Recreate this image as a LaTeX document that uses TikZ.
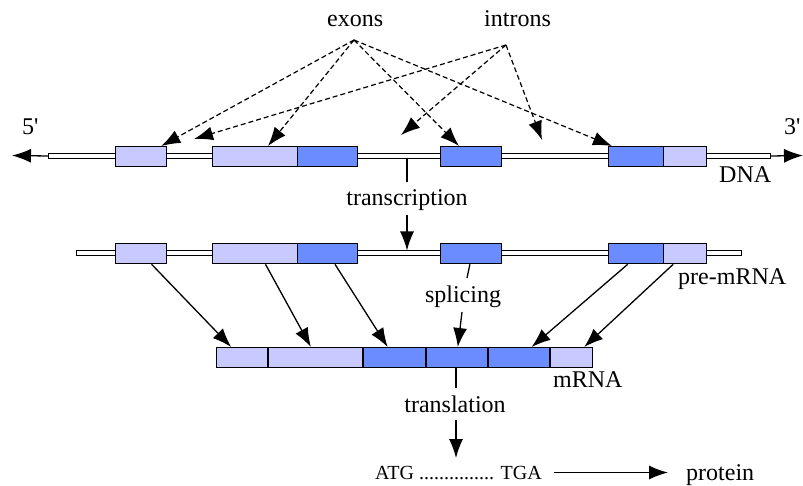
\documentclass[tikz,border=0pt]{standalone}
\usepackage{fontspec}
\setmainfont{Liberation Serif}
\usetikzlibrary{arrows.meta,calc}
\definecolor{exlight}{RGB}{200,202,255}
\definecolor{exdark}{RGB}{106,140,255}
\begin{document}
\begin{tikzpicture}[x=1pt,y=-1pt,
  bar/.style={draw,fill=white,line width=1pt,inner sep=0,minimum height=5pt,anchor=north west},
  lbox/.style={draw,fill=exlight,line width=1.3pt,inner sep=0,minimum height=20pt,anchor=north west},
  dbox/.style={draw,fill=exdark,line width=1.3pt,inner sep=0,minimum height=20pt,anchor=north west},
  lbl/.style={inner sep=0,anchor=base west,font=\fontsize{24}{28}\selectfont},
  lblc/.style={inner sep=0,anchor=base,font=\fontsize{24}{28}\selectfont},
  small/.style={inner sep=0,anchor=base west,font=\fontsize{20}{24}\selectfont},
  arr/.style={line width=1.3pt,-{Latex[length=19pt,width=14pt]}},
  darr/.style={arr,dash pattern=on 5pt off 3pt,line width=1.2pt},
  plain/.style={line width=1.3pt}
]
\useasboundingbox (0,0) rectangle (803,486);

% DNA
\node[bar,minimum width=722pt] (dna) at (48,153) {};
\node[lbox,minimum width=51pt] (d1) at (115,146) {};
\node[lbox,minimum width=85pt] (d2) at (212,146) {};
\node[dbox,minimum width=60pt] (d3) at (297,146) {};
\node[dbox,minimum width=61pt] (d4) at (440,146) {};
\node[dbox,minimum width=55pt] (d5) at (608,146) {};
\node[lbox,minimum width=43pt] (d6) at (663,146) {};

% pre-mRNA
\node[bar,minimum width=665pt] (pre) at (76,250.5) {};
\node[lbox,minimum width=51pt] (p1) at (115,243) {};
\node[lbox,minimum width=85pt] (p2) at (212,243) {};
\node[dbox,minimum width=60pt] (p3) at (297,243) {};
\node[dbox,minimum width=61pt] (p4) at (440,243) {};
\node[dbox,minimum width=55pt] (p5) at (608,243) {};
\node[lbox,minimum width=43pt] (p6) at (663,243) {};

% mRNA
\node[lbox,minimum width=51pt] (m1) at (216,347) {};
\node[lbox,minimum width=94pt] (m2) at (268,347) {};
\node[dbox,minimum width=62pt] (m3) at (363,347) {};
\node[dbox,minimum width=61pt] (m4) at (426,347) {};
\node[dbox,minimum width=61pt] (m5) at (488,347) {};
\node[lbox,minimum width=42pt] (m6) at (550,347) {};

% labels
\node[lbl] (exons) at (327,27) {exons};
\node[lbl] (introns) at (484,27) {introns};
\node[lbl] (five) at (22,135) {5\textquotesingle};
\node[lbl] (three) at (784,135) {3\textquotesingle};
\node[lbl] (dnal) at (719,183) {DNA};
\node[lblc] (trl) at (407,206) {transcription};
\node[lbl] (prel) at (678,285) {pre-mRNA};
\node[lblc] (spl) at (463,302) {splicing};
\node[lbl] (mrl) at (553,387) {mRNA};
\node[lblc] (trans) at (455,412) {translation};
\node[small] (atg) at (375,479) {ATG ............... TGA};
\node[lbl] (prot) at (686,480) {protein};

% coordinates
\coordinate (exo) at (354,40);
\coordinate (intr) at (506,45);
\coordinate (i1) at (194,139);
\coordinate (i2) at (401,135);
\coordinate (i3) at (542,140);
\coordinate (fiveend) at (12,155.5);
\coordinate (threeend) at (803,155.5);
\coordinate (trtop) at (407,182);
\coordinate (trbot) at (407,215);
\coordinate (sptop) at (467,278);
\coordinate (spbot) at (462,312);
\coordinate (tltop) at (456,388);
\coordinate (tlbot) at (456,420);
\coordinate (tltip) at (456,458);

% dashed arrows
\draw[darr] (exo) -- ([xshift=-6pt]d1.north east);
\draw[darr] (exo) -- ([xshift=56pt]d2.north west);
\draw[darr] (exo) -- ([xshift=19pt]d4.north west);
\draw[darr] (exo) -- ([xshift=4pt]d5.north west);
\draw[darr] (intr) -- (i1);
\draw[darr] (intr) -- (i2);
\draw[darr] (intr) -- (i3);

% DNA ends
\draw[arr] (dna.west) -- (fiveend);
\draw[arr] (dna.east) -- (threeend);

% transcription
\draw[plain] (trtop |- dna.south) -- (trtop);
\draw[arr] (trbot) -- (trbot |- pre.north);

% splicing
\draw[arr] ($(p1.south west)!0.7!(p1.south east)$) -- ($(m1.north west)!0.29!(m1.north east)$);
\draw[arr] ($(p2.south west)!0.62!(p2.south east)$) -- ($(m2.north west)!0.45!(m2.north east)$);
\draw[arr] ($(p3.south west)!0.62!(p3.south east)$) -- ($(m3.north west)!0.39!(m3.north east)$);
\draw[plain] ($(p4.south west)!0.48!(p4.south east)$) -- (sptop);
\draw[arr] (spbot) -- ($(m4.north west)!0.51!(m4.north east)$);
\draw[arr] ($(p5.south west)!0.35!(p5.south east)$) -- ($(m5.north west)!0.7!(m5.north east)$);
\draw[arr] ($(p6.south west)!0.23!(p6.south east)$) -- ($(m6.north west)!0.79!(m6.north east)$);

% translation
\draw[plain] (tltop |- m4.south) -- (tltop);
\draw[arr] (tlbot) -- (tltip);
\draw[arr] ([xshift=12pt]atg.east) -- ([xshift=-18pt]atg.east -| prot.west);
\end{tikzpicture}
\end{document}
